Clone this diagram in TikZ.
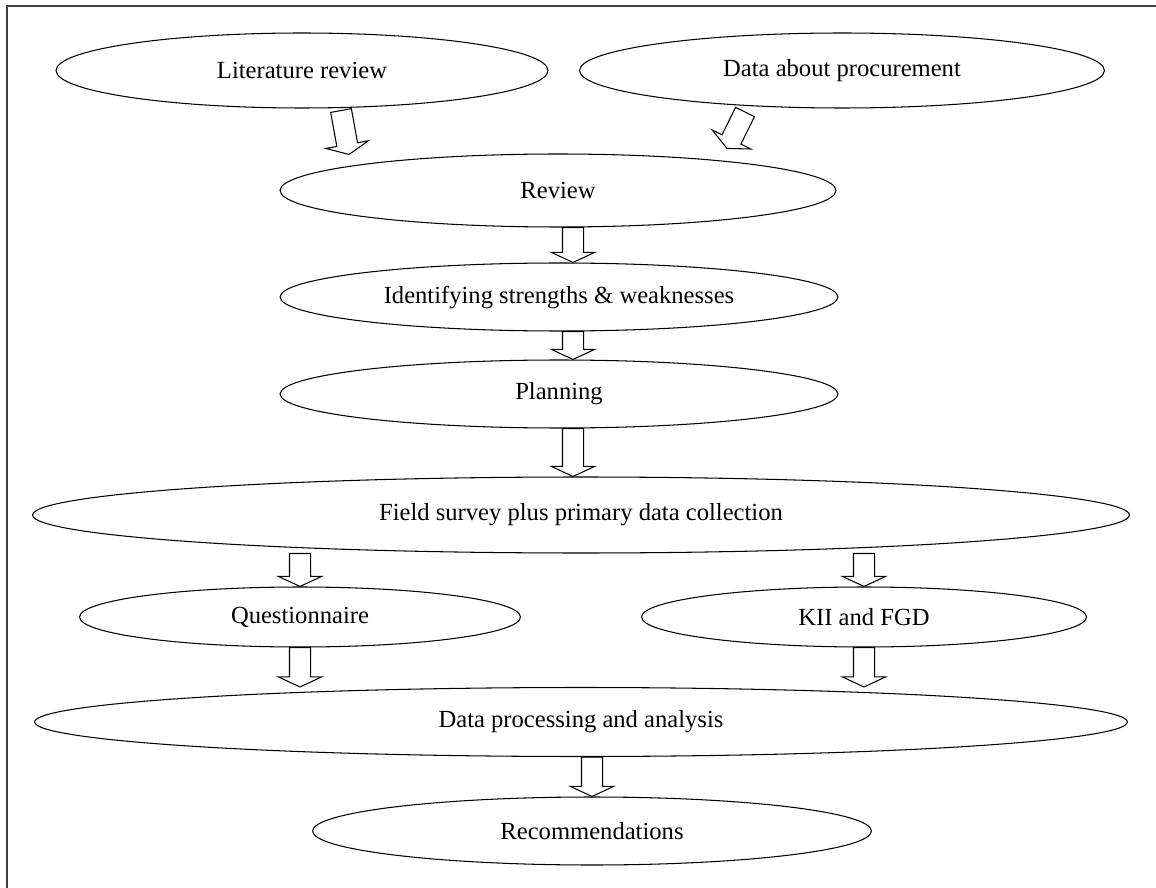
\documentclass[tikz,border=0pt]{standalone}
\usepackage{fontspec}
\setmainfont{Liberation Serif}
\usepackage{tikz}
\usetikzlibrary{shapes.geometric,shapes.arrows,calc}

\newcommand{\blockarrow}[2]{%
  \path let \p1=($(#2)-(#1)$), \n1={veclen(\x1,\y1)} in
    (#1) -- (#2) node[pos=0, anchor=tail, sloped, allow upside down, barrow, minimum height=\n1] {};}

\begin{document}
\begin{tikzpicture}[x=0.02cm, y=-0.02cm,
    oval/.style={shape=ellipse, draw, line width=0.6pt, inner sep=0pt, font=\fontsize{14}{16}\selectfont},
    barrow/.style={shape=single arrow, draw, line width=0.6pt, inner xsep=0pt, inner ysep=0.2cm, outer sep=0pt,
      minimum width=0.84cm, single arrow head extend=0.22cm, single arrow tip angle=130}]
    \useasboundingbox (0,0) rectangle (1156,888);
    \draw[black!75, line width=0.7pt] (7,6) rectangle (1170,900);

    \node[oval, minimum width=9.84cm, minimum height=1.5cm] (lit) at (302,70.5) {Literature review};
    \node[oval, minimum width=10.5cm, minimum height=1.5cm] (proc) at (842,70.5) {Data about procurement};
    \node[oval, minimum width=11.12cm, minimum height=1.46cm] (rev) at (558,190.5) {Review};
    \node[oval, minimum width=11.16cm, minimum height=1.36cm] (ident) at (559,297) {Identifying strengths \& weaknesses};
    \node[oval, minimum width=11.16cm, minimum height=1.36cm] (plan) at (559,394) {Planning};
    \node[oval, minimum width=21.94cm, minimum height=1.52cm] (field) at (581,515) {Field survey plus primary data collection};
    \node[oval, minimum width=8.82cm, minimum height=1.2cm] (quest) at (300,617) {Questionnaire};
    \node[oval, minimum width=8.9cm, minimum height=1.2cm] (kii) at (864,617) {KII and FGD};
    \node[oval, minimum width=21.86cm, minimum height=1.38cm] (dat) at (581,722) {Data processing and analysis};
    \node[oval, minimum width=11.18cm, minimum height=1.36cm] (rec) at (592,831) {Recommendations};

    % arrow ends
    \coordinate (midcol) at (573,0);
    \coordinate (litout) at ($(lit.south)+(39,2)$);
    \coordinate (revin) at ($(rev.north)+(-209,1)$);
    \coordinate (procout) at ($(proc.south)+(-97,3.5)$);
    \coordinate (revinb) at ($(rev.north)+(169,-5)$);

    \blockarrow{litout}{revin}
    \blockarrow{procout}{revinb}
    \blockarrow{rev.south -| midcol}{ident.north -| midcol}
    \blockarrow{ident.south -| midcol}{plan.north -| midcol}
    \blockarrow{plan.south -| midcol}{field.north -| midcol}
    \blockarrow{field.south -| quest.north}{quest.north}
    \blockarrow{field.south -| kii.north}{kii.north}
    \blockarrow{quest.south}{quest.south |- dat.north}
    \blockarrow{kii.south}{kii.south |- dat.north}
    \blockarrow{dat.south -| rec.north}{rec.north}
\end{tikzpicture}
\end{document}
